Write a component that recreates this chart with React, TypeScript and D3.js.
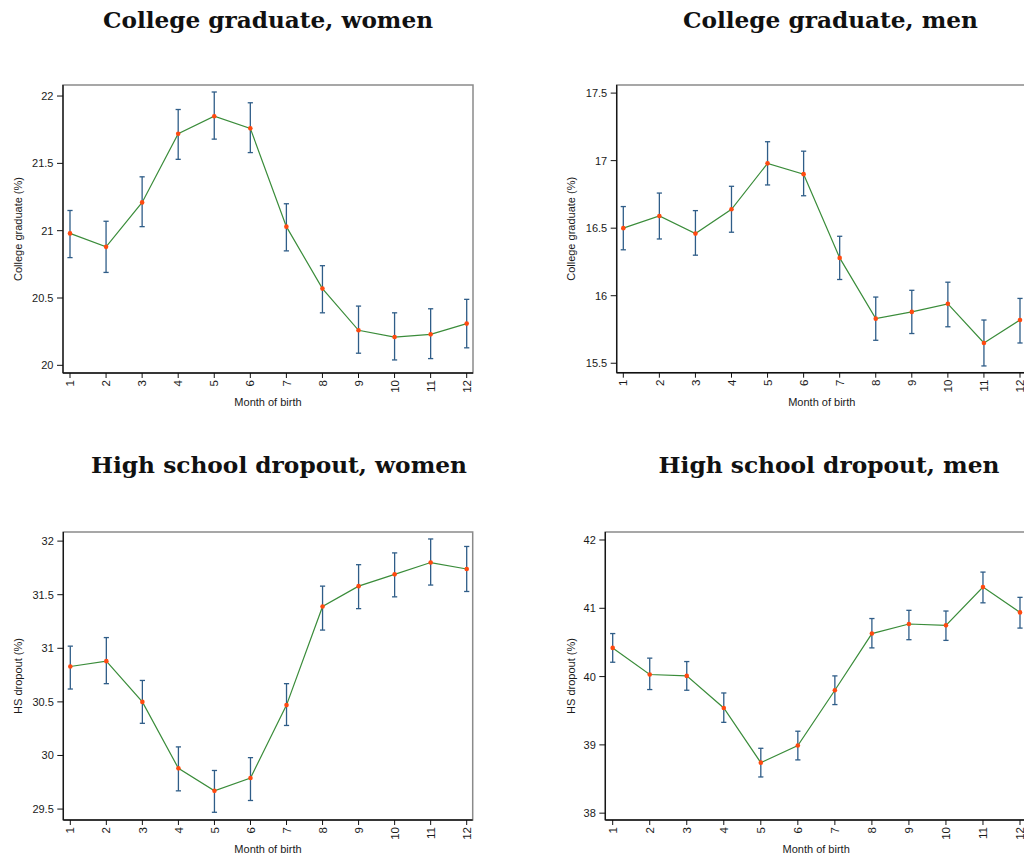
import React from "react";
import * as d3 from "d3";

// Month of birth categories
const months = [1, 2, 3, 4, 5, 6, 7, 8, 9, 10, 11, 12];

// College graduate, women (%): estimate and 95% CI
const cgWomen = [20.98, 20.88, 21.21, 21.72, 21.85, 21.76, 21.03, 20.57, 20.26, 20.21, 20.23, 20.31];
const cgWomenLo = [20.80, 20.69, 21.03, 21.53, 21.68, 21.58, 20.85, 20.39, 20.09, 20.04, 20.05, 20.13];
const cgWomenHi = [21.15, 21.07, 21.40, 21.90, 22.03, 21.95, 21.20, 20.74, 20.44, 20.39, 20.42, 20.49];

// College graduate, men (%)
const cgMen = [16.50, 16.59, 16.46, 16.64, 16.98, 16.90, 16.28, 15.83, 15.88, 15.94, 15.65, 15.82];
const cgMenLo = [16.34, 16.42, 16.30, 16.47, 16.82, 16.74, 16.12, 15.67, 15.72, 15.77, 15.48, 15.65];
const cgMenHi = [16.66, 16.76, 16.63, 16.81, 17.14, 17.07, 16.44, 15.99, 16.04, 16.10, 15.82, 15.98];

// High school dropout, women (%)
const hsWomen = [30.83, 30.88, 30.50, 29.88, 29.67, 29.79, 30.47, 31.39, 31.58, 31.69, 31.80, 31.74];
const hsWomenLo = [30.62, 30.67, 30.30, 29.67, 29.47, 29.58, 30.28, 31.17, 31.37, 31.48, 31.59, 31.53];
const hsWomenHi = [31.02, 31.10, 30.70, 30.08, 29.86, 29.98, 30.67, 31.58, 31.78, 31.89, 32.02, 31.95];

// High school dropout, men (%)
const hsMen = [40.42, 40.03, 40.01, 39.54, 38.74, 38.99, 39.80, 40.63, 40.77, 40.75, 41.31, 40.94];
const hsMenLo = [40.21, 39.81, 39.80, 39.33, 38.53, 38.78, 39.59, 40.42, 40.54, 40.53, 41.08, 40.71];
const hsMenHi = [40.63, 40.27, 40.22, 39.76, 38.95, 39.20, 40.01, 40.85, 40.97, 40.96, 41.53, 41.16];

// Y-axis tick values
const cgWomenTicks = [20, 20.5, 21, 21.5, 22];
const cgMenTicks = [15.5, 16, 16.5, 17, 17.5];
const hsWomenTicks = [29.5, 30, 30.5, 31, 31.5, 32];
const hsMenTicks = [38, 39, 40, 41, 42];

const titles = [
  "College graduate, women",
  "College graduate, men",
  "High school dropout, women",
  "High school dropout, men",
];
const yTitles = ["College graduate (%)", "College graduate (%)", "HS dropout (%)", "HS dropout (%)"];
const xTitle = "Month of birth";

type Panel = {
  title: string;
  yTitle: string;
  est: number[];
  lo: number[];
  hi: number[];
  ticks: number[];
  yDomain: [number, number];
  frame: { x0: number; x1: number; y0: number; y1: number };
  xRange: [number, number];
  titleX: number;
  titleY: number;
  titleW: number;
  yTitleX: number;
};

const panels: Panel[] = [
  {
    title: titles[0], yTitle: yTitles[0], est: cgWomen, lo: cgWomenLo, hi: cgWomenHi,
    ticks: cgWomenTicks, yDomain: [19.943, 22.082],
    frame: { x0: 63, x1: 473, y0: 85, y1: 373 }, xRange: [70, 466.7],
    titleX: 268, titleY: 28, titleW: 330, yTitleX: 22,
  },
  {
    title: titles[1], yTitle: yTitles[1], est: cgMen, lo: cgMenLo, hi: cgMenHi,
    ticks: cgMenTicks, yDomain: [15.43, 17.56],
    frame: { x0: 616.7, x1: 1027, y0: 85, y1: 372.7 }, xRange: [623.3, 1020],
    titleX: 830.5, titleY: 27.5, titleW: 295, yTitleX: 575,
  },
  {
    title: titles[2], yTitle: yTitles[2], est: hsWomen, lo: hsWomenLo, hi: hsWomenHi,
    ticks: hsWomenTicks, yDomain: [29.398, 32.085],
    frame: { x0: 63.3, x1: 472.7, y0: 532, y1: 820 }, xRange: [70.3, 466.7],
    titleX: 279, titleY: 473, titleW: 376, yTitleX: 22,
  },
  {
    title: titles[3], yTitle: yTitles[3], est: hsMen, lo: hsMenLo, hi: hsMenHi,
    ticks: hsMenTicks, yDomain: [37.9, 42.117],
    frame: { x0: 605.3, x1: 1027, y0: 532, y1: 820 }, xRange: [612.7, 1020],
    titleX: 829, titleY: 473, titleW: 341, yTitleX: 575,
  },
];

const TEXT = "#1a1a1a";
const SANS = "'Liberation Sans', Arial, sans-serif";
const SERIF = "'DejaVu Serif', serif";
const CI_COLOR = "#2f5d88";
const LINE_COLOR = "#3a8c3a";
const MARKER_COLOR = "#ff4a10";

function PanelView({ p }: { p: Panel }) {
  const { frame } = p;
  const x = d3.scaleLinear().domain([1, 12]).range(p.xRange);
  const y = d3.scaleLinear().domain(p.yDomain).range([frame.y1, frame.y0]);
  const line = d3
    .line<number>()
    .x((_, i) => x(months[i]))
    .y((v) => y(v));
  const cap = 2.6;
  const fmt = (v: number) => String(v);

  return (
    <g>
      <text
        x={p.titleX}
        y={p.titleY}
        textAnchor="middle"
        fontFamily={SERIF}
        fontWeight="bold"
        fontSize={22}
        textLength={p.titleW}
        lengthAdjust="spacingAndGlyphs"
        fill="#111"
      >
        {p.title}
      </text>

      {/* plot region outline */}
      <rect
        x={frame.x0}
        y={frame.y0}
        width={frame.x1 - frame.x0}
        height={frame.y1 - frame.y0}
        fill="white"
        stroke="#8a8a8a"
        strokeWidth={1.5}
      />

      {/* y axis */}
      <line x1={frame.x0} x2={frame.x0} y1={frame.y0} y2={frame.y1} stroke="#111" strokeWidth={1.3} />
      {p.ticks.map((t) => (
        <g key={t}>
          <line x1={frame.x0 - 6} x2={frame.x0} y1={y(t)} y2={y(t)} stroke="#111" strokeWidth={1} />
          <text
            x={frame.x0 - 9.5}
            y={y(t)}
            dy="0.36em"
            textAnchor="end"
            fontFamily={SANS}
            fontSize={11}
            fill={TEXT}
          >
            {fmt(t)}
          </text>
        </g>
      ))}
      <text
        transform={`translate(${p.yTitleX},${(frame.y0 + frame.y1) / 2}) rotate(-90)`}
        textAnchor="middle"
        fontFamily={SANS}
        fontSize={11}
        fill={TEXT}
      >
        {p.yTitle}
      </text>

      {/* x axis */}
      <line x1={frame.x0} x2={frame.x1} y1={frame.y1} y2={frame.y1} stroke="#111" strokeWidth={1.6} />
      {months.map((m) => (
        <g key={m}>
          <line x1={x(m)} x2={x(m)} y1={frame.y1} y2={frame.y1 + 5} stroke="#111" strokeWidth={1} />
          <text
            transform={`translate(${x(m)},${frame.y1 + 7}) rotate(-90)`}
            dy="0.36em"
            textAnchor="end"
            fontFamily={SANS}
            fontSize={11.5}
            fill={TEXT}
          >
            {m}
          </text>
        </g>
      ))}
      <text
        x={(frame.x0 + frame.x1) / 2}
        y={frame.y1 + 33}
        textAnchor="middle"
        fontFamily={SANS}
        fontSize={11}
        fill={TEXT}
      >
        {xTitle}
      </text>

      {/* confidence intervals */}
      {months.map((m, i) => (
        <g key={`ci${m}`} stroke={CI_COLOR} strokeWidth={1.3}>
          <line x1={x(m)} x2={x(m)} y1={y(p.lo[i])} y2={y(p.hi[i])} />
          <line x1={x(m) - cap} x2={x(m) + cap} y1={y(p.lo[i])} y2={y(p.lo[i])} />
          <line x1={x(m) - cap} x2={x(m) + cap} y1={y(p.hi[i])} y2={y(p.hi[i])} />
        </g>
      ))}

      {/* point estimates */}
      <path d={line(p.est) ?? ""} fill="none" stroke={LINE_COLOR} strokeWidth={1.2} />
      {months.map((m, i) => (
        <circle key={`pt${m}`} cx={x(m)} cy={y(p.est[i])} r={2.3} fill={MARKER_COLOR} />
      ))}
    </g>
  );
}

export default function App() {
  return (
    <svg
      width={1024}
      height={861}
      style={{ position: "absolute", left: 0, top: 0, background: "white" }}
    >
      <rect x={0} y={0} width={1024} height={861} fill="white" />
      {panels.map((p) => (
        <PanelView key={p.title} p={p} />
      ))}
    </svg>
  );
}
